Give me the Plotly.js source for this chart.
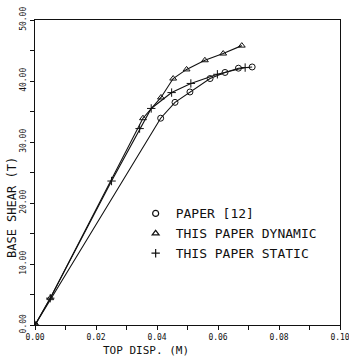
<!DOCTYPE html>
<html>
<head>
<meta charset="utf-8">
<script src="https://cdn.plot.ly/plotly-3.0.1.min.js"></script>
<style>
html,body{margin:0;padding:0;background:#fff;}
#chart{width:349px;height:358px;}
</style>
</head>
<body>
<div id="chart"></div>
<script>
// Series: PAPER [12]
var paperX = [0, 0.0412, 0.0459, 0.0508, 0.0574, 0.0623, 0.0667, 0.0712];
var paperY = [0, 33.9, 36.5, 38.2, 40.4, 41.4, 42.1, 42.3];
// Series: THIS PAPER DYNAMIC
var dynX = [0, 0.005, 0.0354, 0.0413, 0.0453, 0.0497, 0.0557, 0.0617, 0.0678];
var dynY = [0, 4.4, 33.9, 37.3, 40.4, 41.9, 43.4, 44.5, 45.8];
// Series: THIS PAPER STATIC
var staX = [0, 0.005, 0.0251, 0.0343, 0.0381, 0.0448, 0.0511, 0.0598, 0.0689];
var staY = [0, 4.4, 23.6, 32.2, 35.5, 38.1, 39.6, 41.1, 42.2];

var seriesNames = ['PAPER [12]', 'THIS PAPER DYNAMIC', 'THIS PAPER STATIC'];
var xTickVals = [0, 0.02, 0.04, 0.06, 0.08, 0.10];
var xTickText = ['0.00', '0.02', '0.04', '0.06', '0.08', '0.10'];
var yTickVals = [0, 10, 20, 30, 40, 50];
var yTickText = ['0.00', '10.00', '20.00', '30.00', '40.00', '50.00'];

var mono = 'DejaVu Sans Mono, monospace';
var lineStyle = {color: '#111', width: 1.1};

function dataTrace(x, y, sym, size) {
  return {x: x, y: y, mode: 'lines+markers', showlegend: false, hoverinfo: 'skip',
    line: lineStyle,
    marker: {symbol: sym, size: size, color: '#111', line: {color: '#111', width: 1}}};
}
function legendTrace(name, sym, size) {
  return {x: [null], y: [null], mode: 'markers', name: name, showlegend: true,
    marker: {symbol: sym, size: size, color: '#111', line: {color: '#111', width: 1.2}}};
}

var traces = [
  dataTrace(paperX, paperY, 'circle-open', 6),
  dataTrace(dynX, dynY, 'triangle-up-open', 6),
  dataTrace(staX, staY, 'cross-thin-open', 6),
  legendTrace(seriesNames[0], 'circle-open', 6),
  legendTrace(seriesNames[1], 'triangle-up-open', 6),
  legendTrace(seriesNames[2], 'cross-thin-open', 6)
];

var layout = {
  width: 349, height: 358,
  margin: {l: 35, r: 9, t: 20, b: 33},
  paper_bgcolor: '#fff', plot_bgcolor: '#fff',
  font: {family: mono, color: '#111'},
  showlegend: true,
  legend: {x: 0.33, y: 0.415, xanchor: 'left', yanchor: 'top',
    bgcolor: 'rgba(0,0,0,0)', font: {family: mono, size: 13, color: '#111'},
    itemwidth: 30, tracegroupgap: 0},
  xaxis: {range: [0, 0.10], tickvals: xTickVals, ticktext: xTickText,
    ticks: 'outside', ticklen: 4, tickwidth: 1, tickcolor: '#111',
    ticklabeloverflow: 'allow',
    minor: {dtick: 0.01, tick0: 0, ticks: 'outside', ticklen: 4, tickcolor: '#111', showgrid: false},
    showline: true, linecolor: '#111', linewidth: 1.4, mirror: true,
    showgrid: false, zeroline: false,
    tickfont: {family: mono, size: 8, color: '#111'}},
  yaxis: {range: [0, 50], tickvals: yTickVals, ticktext: yTickText,
    ticks: 'outside', ticklen: 4, tickwidth: 1, tickcolor: '#111', tickangle: -90,
    ticklabeloverflow: 'allow',
    minor: {dtick: 5, tick0: 0, ticks: 'outside', ticklen: 4, tickcolor: '#111', showgrid: false},
    showline: true, linecolor: '#111', linewidth: 1.4, mirror: true,
    showgrid: false, zeroline: false,
    tickfont: {family: mono, size: 8, color: '#111'}},
  annotations: [
    {text: 'TOP DISP. (M)', xref: 'paper', yref: 'paper', x: 0.364, y: -0.082,
      xanchor: 'center', yanchor: 'middle', showarrow: false,
      font: {family: mono, size: 11, color: '#111'}},
    {text: 'BASE SHEAR (T)', xref: 'paper', yref: 'paper', x: -0.075, y: 0.384,
      xanchor: 'center', yanchor: 'middle', showarrow: false, textangle: -90,
      font: {family: mono, size: 12, color: '#111'}}
  ]
};

Plotly.newPlot('chart', traces, layout, {displayModeBar: false, staticPlot: true});
</script>
</body>
</html>
